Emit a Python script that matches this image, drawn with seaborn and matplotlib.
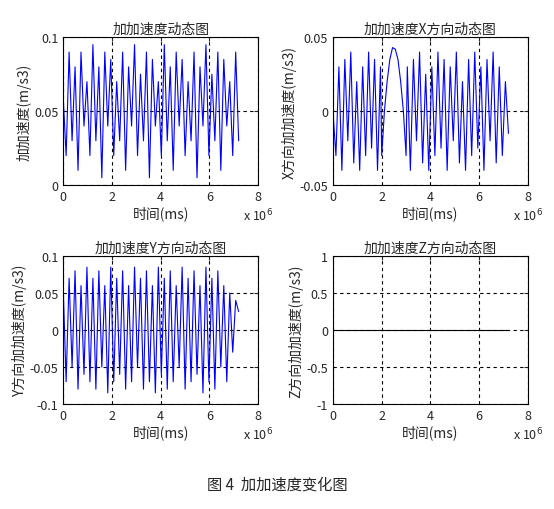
import numpy as np
import matplotlib
matplotlib.use("Agg")
import matplotlib.pyplot as plt
import seaborn as sns

sns.set_style("white")
plt.rcParams['font.family'] = ['Noto Sans CJK SC', 'DejaVu Sans']

# time axis in units of 1e6 ms
t_end = 7.2
jerk = [0.06,0.02,0.09,0.03,0.08,0.01,0.09,0.04,0.07,0.02,0.095,0.03,0.08,0.005,0.09,0.04,0.085,0.02,0.07,0.03,
        0.09,0.01,0.08,0.04,0.095,0.02,0.075,0.03,0.09,0.005,0.085,0.04,0.07,0.02,0.095,0.03,0.08,0.01,0.09,0.04,
        0.085,0.02,0.07,0.03,0.09,0.005,0.08,0.04,0.095,0.02,0.075,0.03,0.09,0.01,0.085,0.04,0.07,0.02,0.09,0.03]
jerk_x_a = [0.0,-0.03,0.03,-0.04,0.035,-0.02,0.04,-0.035,0.02,-0.04,0.03,-0.03,0.04,-0.025,0.035,-0.04,0.03]
jerk_x_arch = [-0.03,0.0,0.02,0.035,0.043,0.042,0.035,0.02,0.0,-0.03]
jerk_x_b = [0.03,-0.04,0.035,-0.02,0.04,-0.035,0.025,-0.04,0.03,-0.03,0.04,-0.025,0.035,-0.04,0.03,-0.02,
            0.04,-0.035,0.02,-0.04,0.035,-0.03,0.04,-0.025,0.03,-0.04,0.035,-0.02,0.04,-0.035,0.03,-0.03,0.02,-0.015]
jerk_y = [0.06,-0.07,0.07,-0.05,0.08,-0.08,0.06,-0.06,0.085,-0.07,0.07,-0.08,0.08,-0.05,0.06,-0.085,0.085,-0.07,0.07,-0.06,
          0.08,-0.08,0.06,-0.07,0.085,-0.05,0.07,-0.08,0.08,-0.07,0.06,-0.085,0.085,-0.06,0.07,-0.08,0.08,-0.07,0.06,-0.05,
          0.085,-0.08,0.07,-0.07,0.08,-0.06,0.06,-0.085,0.085,-0.07,0.07,-0.08,0.08,-0.05,0.06,-0.07,0.05,-0.03,0.04,0.025]
jerk_z = [0.0, 0.0]

t1 = np.linspace(0, t_end, len(jerk))
tx = np.concatenate([np.linspace(0, 1.95, len(jerk_x_a)),
                     np.linspace(2.0, 3.0, len(jerk_x_arch)),
                     np.linspace(3.05, t_end, len(jerk_x_b))])
yx = jerk_x_a + jerk_x_arch + jerk_x_b
ty = np.linspace(0, t_end, len(jerk_y))
tz = np.array([0, t_end])

fig = plt.figure(figsize=(5.54, 5.10), dpi=100)
W, H = 0.352, 0.29
specs = [
    ([0.114, 0.635, W, H], t1, jerk, 'b', '加加速度动态图', '加加速度(m/s3)', (0, 0.1), [0, 0.05, 0.1], ['0', '0.05', '0.1']),
    ([0.601, 0.635, W, H], tx, yx, 'b', '加加速度X方向动态图', 'X方向加加速度(m/s3)', (-0.05, 0.05), [-0.05, 0, 0.05], ['-0.05', '0', '0.05']),
    ([0.114, 0.206, W, H], ty, jerk_y, 'b', '加加速度Y方向动态图', 'Y方向加加速度(m/s3)', (-0.1, 0.1), [-0.1, -0.05, 0, 0.05, 0.1], ['-0.1', '-0.05', '0', '0.05', '0.1']),
    ([0.601, 0.206, W, H], tz, jerk_z, 'k', '加加速度Z方向动态图', 'Z方向加加速度(m/s3)', (-1, 1), [-1, -0.5, 0, 0.5, 1], ['-1', '-0.5', '0', '0.5', '1']),
]
for rect, x, y, c, title, ylabel, ylim, yt, ytl in specs:
    ax = fig.add_axes(rect)
    sns.lineplot(x=x, y=y, ax=ax, color=c, linewidth=0.8, sort=False, estimator=None)
    ax.set_xlim(0, 8)
    ax.set_ylim(*ylim)
    ax.set_xticks([0, 2, 4, 6, 8])
    ax.set_xticklabels(['0', '2', '4', '6', '8'])
    ax.set_yticks(yt)
    ax.set_yticklabels(ytl)
    ax.tick_params(direction='in', labelsize=9, length=3, top=True, right=True)
    ax.grid(True, color='k', linestyle=(0, (3, 3)), linewidth=0.8)
    for s in ax.spines.values():
        s.set_color('k'); s.set_linewidth(0.8)
    ax.set_title(title, fontsize=10, pad=3)
    ax.set_xlabel('时间(ms)', fontsize=10, labelpad=2)
    ax.set_ylabel(ylabel, fontsize=10, labelpad=2)
    ax.text(1.0, -0.2, 'x 10$^6$', transform=ax.transAxes, fontsize=9, ha='center', va='center')

fig.text(0.5, 0.048, '图 4  加加速度变化图', ha='center', va='center', fontsize=11)
fig.savefig('out.png', dpi=100, facecolor='white')
